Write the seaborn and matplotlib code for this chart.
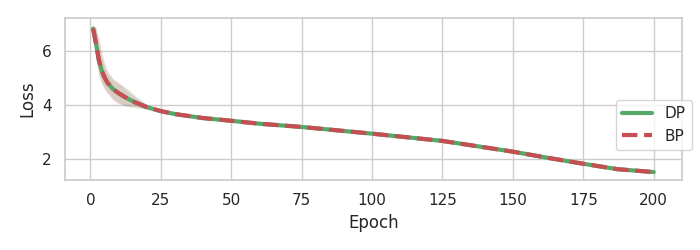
import matplotlib
matplotlib.use("Agg")
import matplotlib.pyplot as plt
import seaborn as sns
import pandas as pd

epochs = [1, 2, 3, 4, 5, 6, 8, 10, 12, 14, 16, 20, 25, 30, 40, 50, 60, 75, 100, 125, 140, 150, 163, 175, 187, 200]

dp_mean = [6.85, 6.30, 5.70, 5.30, 5.05, 4.85, 4.60, 4.45, 4.32, 4.20, 4.10, 3.93, 3.78, 3.67, 3.52, 3.42, 3.31, 3.19, 2.94, 2.67, 2.43, 2.27, 2.03, 1.82, 1.62, 1.51]
dp_lo = [6.75, 5.80, 5.20, 4.85, 4.65, 4.50, 4.25, 4.10, 3.98, 3.92, 3.90, 3.84, 3.74, 3.64, 3.50, 3.40, 3.29, 3.17, 2.92, 2.65, 2.41, 2.25, 2.01, 1.80, 1.60, 1.49]
dp_hi = [6.95, 6.80, 6.30, 5.80, 5.45, 5.20, 4.95, 4.80, 4.70, 4.55, 4.35, 4.03, 3.82, 3.70, 3.54, 3.44, 3.33, 3.21, 2.96, 2.69, 2.45, 2.29, 2.05, 1.84, 1.64, 1.53]

bp_mean = [6.85, 6.30, 5.70, 5.30, 5.05, 4.85, 4.60, 4.45, 4.32, 4.20, 4.10, 3.93, 3.78, 3.67, 3.52, 3.42, 3.31, 3.19, 2.94, 2.67, 2.43, 2.27, 2.03, 1.82, 1.62, 1.51]
bp_lo = [6.70, 5.70, 5.10, 4.80, 4.60, 4.45, 4.20, 4.05, 4.00, 3.97, 3.95, 3.86, 3.74, 3.64, 3.50, 3.40, 3.29, 3.17, 2.92, 2.65, 2.41, 2.25, 2.01, 1.80, 1.60, 1.49]
bp_hi = [6.97, 6.90, 6.50, 6.00, 5.60, 5.30, 5.00, 4.85, 4.65, 4.45, 4.30, 4.02, 3.82, 3.70, 3.54, 3.44, 3.33, 3.21, 2.96, 2.69, 2.45, 2.29, 2.05, 1.84, 1.64, 1.53]

sns.set_theme(style="whitegrid", color_codes=True)

df = pd.DataFrame({
    "Epoch": epochs * 2,
    "Loss": dp_mean + bp_mean,
    "Method": ["DP"] * len(epochs) + ["BP"] * len(epochs),
})

fig, ax = plt.subplots(figsize=(7, 2.5), dpi=100)
green = sns.color_palette("deep")[2]
red = sns.color_palette("deep")[3]

ax.fill_between(epochs, dp_lo, dp_hi, color=green, alpha=0.2, linewidth=0)
ax.fill_between(epochs, bp_lo, bp_hi, color=red, alpha=0.2, linewidth=0)

sns.lineplot(data=df[df.Method == "DP"], x="Epoch", y="Loss", color=green,
             linewidth=3, label="DP", ax=ax)
sns.lineplot(data=df[df.Method == "BP"], x="Epoch", y="Loss", color=red,
             linewidth=3, linestyle="--", label="BP", ax=ax)

ax.set_xticks([0, 25, 50, 75, 100, 125, 150, 175, 200])
ax.set_yticks([2, 4, 6])
ax.legend(loc="upper right", bbox_to_anchor=(1.016, 0.494), borderaxespad=0)

fig.subplots_adjust(left=0.093, right=0.974, top=0.928, bottom=0.28)
fig.savefig("out.png", dpi=100)
